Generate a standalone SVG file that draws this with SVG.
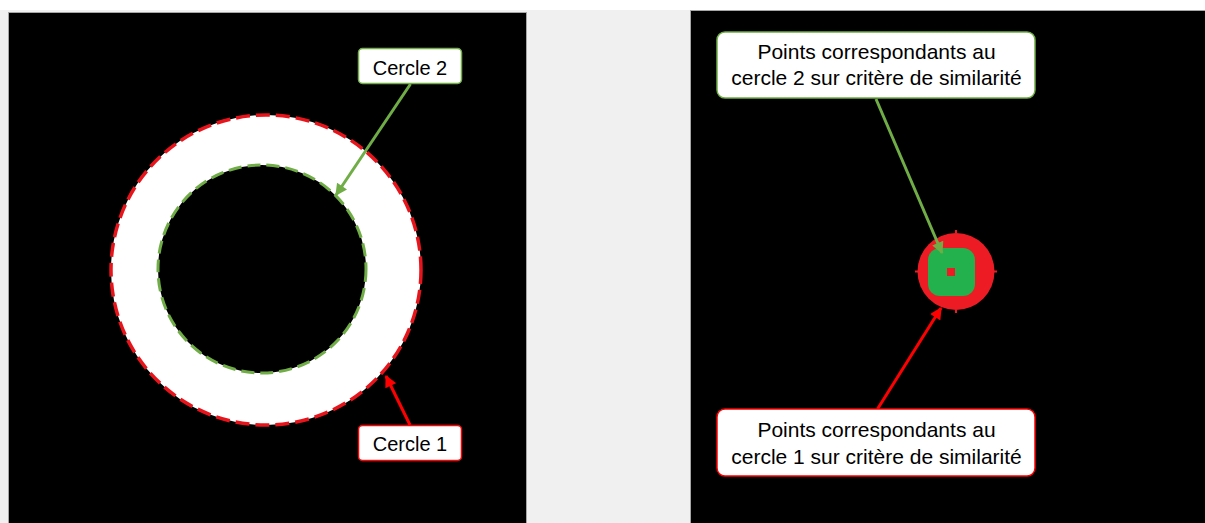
<svg xmlns="http://www.w3.org/2000/svg" width="1205" height="523" viewBox="0 0 1205 523">
  <style>
    .panel { fill: #000; stroke: #a6a6a6; stroke-width: 1; }
    .box-g { fill: #fff; stroke: #70ad47; stroke-width: 1.5; }
    .box-r { fill: #fff; stroke: #ff0000; stroke-width: 1.5; }
    .lbl { font-family: "Liberation Sans", Arial, sans-serif; fill: #000; text-anchor: middle; }
    .s20 { font-size: 20px; }
    .s21 { font-size: 21px; }
    .arr-g { stroke: #70ad47; stroke-width: 3; fill: none; marker-end: url(#headG); }
    .arr-r { stroke: #ff0000; stroke-width: 3; fill: none; marker-end: url(#headR); }
  </style>
  <defs>
    <marker id="headG" viewBox="0 0 10 10" refX="9" refY="5" markerWidth="4.2" markerHeight="4" orient="auto" markerUnits="strokeWidth">
      <path d="M0,0 L10,5 L0,10 z" fill="#70ad47"/>
    </marker>
    <marker id="headR" viewBox="0 0 10 10" refX="9" refY="5" markerWidth="4.2" markerHeight="4" orient="auto" markerUnits="strokeWidth">
      <path d="M0,0 L10,5 L0,10 z" fill="#ff0000"/>
    </marker>
  </defs>

  <rect x="0" y="0" width="1205" height="523" fill="#f0f0f0"/>
  <rect x="0" y="0" width="1205" height="10" fill="#fff"/>

  <!-- Left panel -->
  <g id="left-panel">
    <rect class="panel" x="8.5" y="12.5" width="518" height="512"/>
    <path d="M111,270 a155,155 0 1,0 310,0 a155,155 0 1,0 -310,0 Z M158,269 a104,104 0 1,0 208,0 a104,104 0 1,0 -208,0 Z" fill="#fff" fill-rule="evenodd"/>
  </g>
  <g id="cercle1-outline">
    <circle cx="266" cy="270" r="155" fill="none" stroke="#e8141c" stroke-width="3.5" stroke-dasharray="14 6"/>
  </g>
  <g id="cercle2-outline">
    <circle cx="262" cy="269" r="104" fill="none" stroke="#70ad47" stroke-width="3" stroke-dasharray="13 6"/>
  </g>

  <!-- Right panel -->
  <g id="right-panel">
    <rect class="panel" x="690.5" y="10.5" width="516" height="514"/>
  </g>
  <g id="blob">
    <circle cx="956" cy="271.5" r="38.5" fill="#ed1c24"/>
    <rect x="955" y="230" width="2" height="3" fill="#ed1c24"/>
    <rect x="955" y="310" width="2" height="3" fill="#ed1c24"/>
    <rect x="915" y="270.5" width="3" height="2" fill="#ed1c24"/>
    <rect x="994" y="270.5" width="3" height="2" fill="#ed1c24"/>
    <rect x="928" y="248" width="47" height="48" rx="12" fill="#22b14c"/>
    <rect x="947" y="268" width="8" height="8" fill="#ed1c24"/>
  </g>

  <!-- Connectors -->
  <g id="connectors">
    <line class="arr-g" x1="410.5" y1="84" x2="336" y2="195"/>
    <line class="arr-r" x1="410" y1="425" x2="386" y2="376"/>
    <line class="arr-g" x1="876" y1="99" x2="942" y2="253"/>
    <line class="arr-r" x1="877.5" y1="409" x2="941" y2="308"/>
  </g>

  <!-- Labels -->
  <g id="label-cercle2">
    <rect class="box-g" x="358.5" y="48.5" width="103" height="35" rx="4"/>
    <text class="lbl s20" x="410" y="74.5">Cercle 2</text>
  </g>
  <g id="label-cercle1">
    <rect class="box-r" x="358.5" y="425.5" width="103" height="35" rx="4"/>
    <text class="lbl s20" x="410" y="450.5">Cercle 1</text>
  </g>
  <g id="label-points2">
    <rect class="box-g" x="717" y="32" width="318" height="66" rx="8"/>
    <text class="lbl s21" x="876.5" y="59">Points correspondants au</text>
    <text class="lbl s21" x="876.5" y="85">cercle 2 sur critère de similarité</text>
  </g>
  <g id="label-points1">
    <rect class="box-r" x="717" y="409" width="318" height="67" rx="8"/>
    <text class="lbl s21" x="876.5" y="437">Points correspondants au</text>
    <text class="lbl s21" x="876.5" y="463.5">cercle 1 sur critère de similarité</text>
  </g>
</svg>
